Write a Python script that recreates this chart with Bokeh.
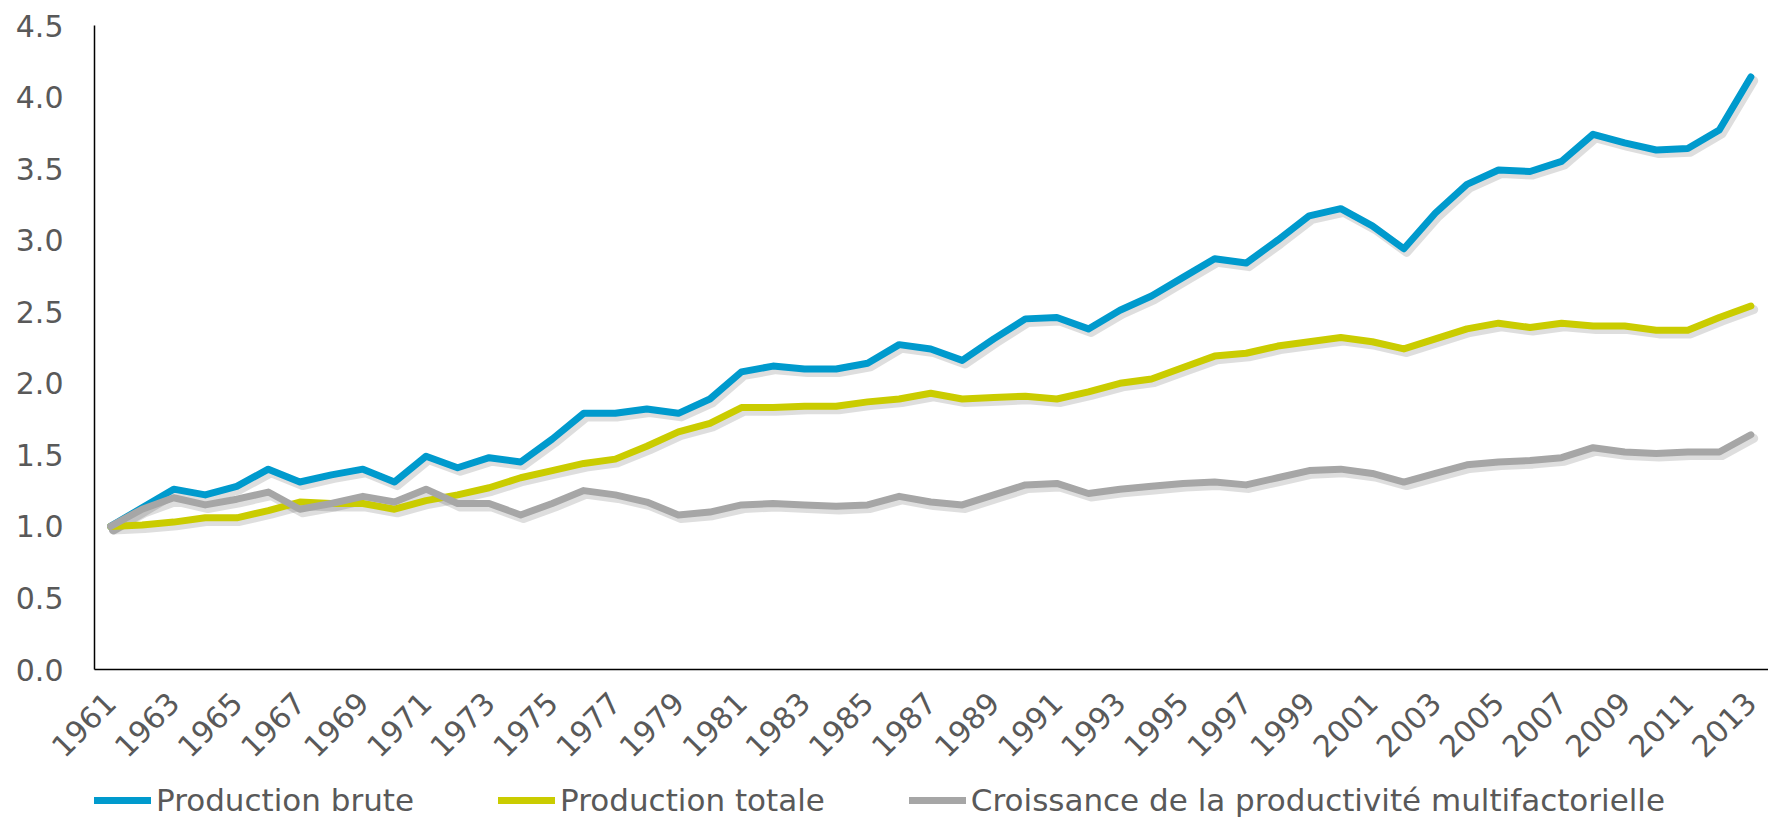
import math
import numpy as np
from bokeh.plotting import figure
from bokeh.layouts import column
from bokeh.models import Range1d, FixedTicker, PrintfTickFormatter, Legend, LegendItem
from bokeh.embed import file_html
from bokeh.resources import INLINE

years = list(range(1961, 2014))

production_brute = [
    1.00, 1.13, 1.26, 1.22, 1.28, 1.40, 1.31, 1.36, 1.40, 1.31,
    1.49, 1.41, 1.48, 1.45, 1.61, 1.79, 1.79, 1.82, 1.79, 1.89,
    2.08, 2.12, 2.10, 2.10, 2.14, 2.27, 2.24, 2.16, 2.31, 2.45,
    2.46, 2.38, 2.51, 2.61, 2.74, 2.87, 2.84, 3.00, 3.17, 3.22,
    3.10, 2.94, 3.19, 3.39, 3.49, 3.48, 3.55, 3.74, 3.68, 3.63,
    3.64, 3.77, 4.14,
]

production_totale = [
    1.00, 1.01, 1.03, 1.06, 1.06, 1.11, 1.17, 1.16, 1.16, 1.12,
    1.18, 1.22, 1.27, 1.34, 1.39, 1.44, 1.47, 1.56, 1.66, 1.72,
    1.83, 1.83, 1.84, 1.84, 1.87, 1.89, 1.93, 1.89, 1.90, 1.91,
    1.89, 1.94, 2.00, 2.03, 2.11, 2.19, 2.21, 2.26, 2.29, 2.32,
    2.29, 2.24, 2.31, 2.38, 2.42, 2.39, 2.42, 2.40, 2.40, 2.37,
    2.37, 2.46, 2.54,
]

productivite_mf = [
    1.00, 1.12, 1.20, 1.15, 1.19, 1.24, 1.12, 1.16, 1.21, 1.17,
    1.26, 1.16, 1.16, 1.08, 1.16, 1.25, 1.22, 1.17, 1.08, 1.10,
    1.15, 1.16, 1.15, 1.14, 1.15, 1.21, 1.17, 1.15, 1.22, 1.29,
    1.30, 1.23, 1.26, 1.28, 1.30, 1.31, 1.29, 1.34, 1.39, 1.40,
    1.37, 1.31, 1.37, 1.43, 1.45, 1.46, 1.48, 1.55, 1.52, 1.51,
    1.52, 1.52, 1.64,
]

series_names = [
    "Production brute",
    "Production totale",
    "Croissance de la productivité multifactorielle",
]
series_colors = ["#009ACD", "#CACC00", "#A6A6A6"]
y_ticks = [0.0, 0.5, 1.0, 1.5, 2.0, 2.5, 3.0, 3.5, 4.0, 4.5]
x_ticks = list(range(1961, 2014, 2))

FONT = "DejaVu Sans"
TEXT_COLOR = "#595959"

# ---------------- main chart ----------------
p = figure(
    width=1768, height=778,
    output_backend="svg", toolbar_location=None,
    x_range=Range1d(1960.49, 2013.56), y_range=Range1d(0, 4.5),
    min_border_left=94, min_border_right=0, min_border_top=25, min_border_bottom=109,
)
p.outline_line_color = None
p.xgrid.grid_line_color = None
p.ygrid.grid_line_color = None
p.background_fill_color = "white"
p.border_fill_color = "white"

p.yaxis.ticker = FixedTicker(ticks=y_ticks)
p.yaxis.formatter = PrintfTickFormatter(format="%.1f")
p.xaxis.ticker = FixedTicker(ticks=x_ticks)
p.xaxis.major_label_overrides = {y: str(y) for y in x_ticks}
p.xaxis.major_label_orientation = math.pi / 4
for ax in (p.xaxis, p.yaxis):
    ax.axis_line_color = "black"
    ax.axis_line_width = 1.5
    ax.major_tick_in = 0
    ax.major_tick_out = 0
    ax.minor_tick_in = 0
    ax.minor_tick_out = 0
    ax.major_tick_line_color = None
    ax.minor_tick_line_color = None
    ax.major_label_text_font = FONT
    ax.major_label_text_color = TEXT_COLOR
    ax.major_label_text_font_size = "30px"
p.yaxis.major_label_standoff = 31
p.xaxis.major_label_standoff = 28

data = [production_brute, production_totale, productivite_mf]

# soft drop shadows (offset a few pixels down-right)
dx = 0.09
dy = -0.025
for vals in data:
    p.line(np.array(years) + dx, np.array(vals) + dy, line_color="black",
           line_alpha=0.13, line_width=9, line_join="round", line_cap="round")

for vals, col in zip(data, series_colors):
    p.line(years, vals, line_color=col, line_width=7,
           line_join="round", line_cap="round")

# ---------------- legend strip ----------------
lg = figure(
    width=1768, height=44,
    output_backend="svg", toolbar_location=None,
    x_axis_location=None, y_axis_location=None,
    x_range=Range1d(1960.49, 2013.56), y_range=Range1d(0, 4.5),
    min_border_left=94, min_border_right=0, min_border_top=0, min_border_bottom=0,
)
lg.outline_line_color = None
lg.xgrid.grid_line_color = None
lg.ygrid.grid_line_color = None
lg.border_fill_color = "white"

leg_renderers = []
for vals, col in zip(data, series_colors):
    r = lg.line(years, vals, line_color=col, line_width=7,
                line_join="round", line_cap="round", visible=False)
    leg_renderers.append(r)

legend = Legend(
    items=[LegendItem(label=n, renderers=[r]) for n, r in zip(series_names, leg_renderers)],
    orientation="horizontal",
    location="left",
    label_text_font=FONT,
    label_text_font_size="31px",
    label_text_color=TEXT_COLOR,
    glyph_width=57, glyph_height=20,
    label_standoff=5, spacing=84,
    padding=9, margin=0,
    inactive_fill_alpha=0,
    border_line_color=None, background_fill_alpha=0,
)
lg.add_layout(legend, "center")

layout = column(p, lg, spacing=0)
open("out.html", "w").write(file_html(layout, INLINE))
